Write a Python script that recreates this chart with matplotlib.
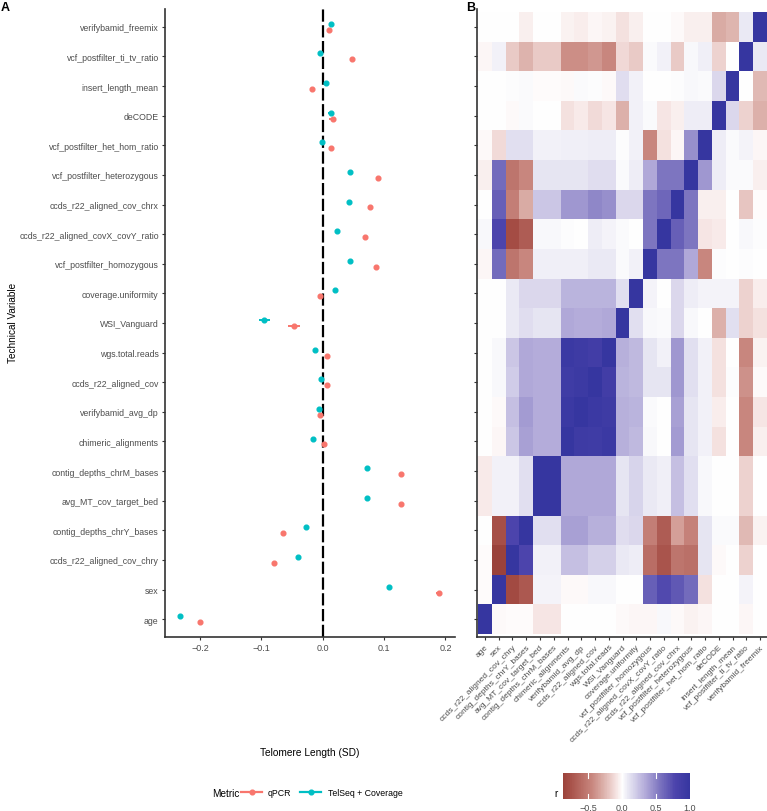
import numpy as np
import matplotlib
matplotlib.use('Agg')
import matplotlib.pyplot as plt
from matplotlib.colors import LinearSegmentedColormap, Normalize
from matplotlib.lines import Line2D

plt.rcParams['font.family'] = ['Liberation Sans', 'DejaVu Sans']

# ---------------- data ----------------
variables = ["age", "sex", "ccds_r22_aligned_cov_chry", "contig_depths_chrY_bases",
             "avg_MT_cov_target_bed", "contig_depths_chrM_bases", "chimeric_alignments",
             "verifybamid_avg_dp", "ccds_r22_aligned_cov", "wgs.total.reads", "WSI_Vanguard",
             "coverage.uniformity", "vcf_postfilter_homozygous", "ccds_r22_aligned_covX_covY_ratio",
             "ccds_r22_aligned_cov_chrx", "vcf_postfilter_heterozygous", "vcf_postfilter_het_hom_ratio",
             "deCODE", "insert_length_mean", "vcf_postfilter_ti_tv_ratio", "verifybamid_freemix"]

qpcr_est = [-0.200, 0.189, -0.080, -0.065, 0.1275, 0.1275, 0.002, -0.0044, 0.0065, 0.0065,
            -0.0467, -0.005, 0.0868, 0.069, 0.0765, 0.0895, 0.0135, 0.016, -0.017, 0.047, 0.011]
qpcr_se = [0.002, 0.004, 0.002, 0.002, 0.002, 0.002, 0.002, 0.002, 0.002, 0.002,
           0.0095, 0.002, 0.002, 0.002, 0.002, 0.002, 0.002, 0.005, 0.002, 0.002, 0.002]
telseq_est = [-0.2324, 0.108, -0.040, -0.027, 0.072, 0.072, -0.016, -0.0055, -0.003, -0.012,
              -0.0956, 0.0205, 0.044, 0.0228, 0.043, 0.044, -0.002, 0.013, 0.005, -0.004, 0.0135]
telseq_se = [0.002, 0.004, 0.002, 0.002, 0.002, 0.002, 0.002, 0.002, 0.002, 0.002,
             0.009, 0.002, 0.002, 0.002, 0.002, 0.002, 0.002, 0.005, 0.002, 0.002, 0.002]

metrics = ["qPCR", "TelSeq + Coverage"]
metric_colors = ["#F8766D", "#00BFC4"]
x_ticks_a = [-0.2, -0.1, 0.0, 0.1, 0.2]

# correlation matrix rows (row i = variables[i], columns in the same order)
r_age = [1, -0.02, -0.01, -0.01, -0.08, -0.08, 0, 0, 0, 0, -0.02, -0.03, -0.03, 0.03, -0.02, -0.04, -0.03, 0, 0, -0.03, 0]
r_sex = [-0.01, 1, -0.82, -0.72, 0.04, 0.04, -0.02, -0.02, 0.03, 0.03, 0, 0, 0.65, 0.75, 0.68, 0.6, -0.1, 0, 0, 0.04, 0]
r_chry = [-0.01, -0.88, 1, 0.78, 0.05, 0.05, 0.25, 0.25, 0.18, 0.18, 0.08, 0.07, -0.6, -0.75, -0.55, -0.58, 0.1, -0.02, 0, -0.15, 0]
r_chrY = [0, -0.78, 0.78, 1, 0.12, 0.12, 0.38, 0.38, 0.32, 0.32, 0.13, 0.15, -0.5, -0.7, -0.35, -0.48, 0.1, 0.02, 0.02, -0.25, -0.04]
r_avgMT = [-0.07, 0.05, 0.05, 0.12, 1, 1, 0.35, 0.35, 0.35, 0.35, 0.1, 0.17, 0.08, 0.06, 0.25, 0.12, 0.03, 0, 0, -0.15, 0]
r_chrM = [-0.07, 0.05, 0.05, 0.12, 1, 1, 0.35, 0.35, 0.35, 0.35, 0.1, 0.17, 0.08, 0.06, 0.25, 0.12, 0.03, 0, 0, -0.15, 0]
r_chim = [0, -0.03, 0.22, 0.38, 0.33, 0.33, 1, 0.92, 0.9, 0.95, 0.32, 0.28, 0.03, 0, 0.4, 0.1, 0.05, -0.1, 0, -0.45, -0.05]
r_avgdp = [0, -0.02, 0.25, 0.4, 0.33, 0.33, 0.95, 1, 0.95, 0.92, 0.32, 0.3, 0.02, 0, 0.38, 0.1, 0.05, -0.06, 0, -0.45, -0.08]
r_ccds = [0, 0.03, 0.2, 0.35, 0.33, 0.33, 0.9, 0.93, 1, 0.88, 0.3, 0.28, 0.1, 0.1, 0.42, 0.12, 0.05, -0.1, 0.01, -0.4, -0.02]
r_wgs = [0, 0.03, 0.22, 0.35, 0.33, 0.33, 0.95, 0.92, 0.88, 1, 0.32, 0.28, 0.1, 0.05, 0.42, 0.12, 0.05, -0.1, 0, -0.45, -0.04]
r_wsi = [0, 0, 0.08, 0.13, 0.1, 0.1, 0.35, 0.33, 0.33, 0.35, 1, 0.12, 0.03, 0.02, 0.15, 0.03, 0, -0.28, 0.12, -0.15, -0.1]
r_covu = [0, 0, 0.08, 0.15, 0.15, 0.15, 0.3, 0.3, 0.3, 0.3, 0.12, 1, 0.04, 0, 0.15, 0.07, 0.04, 0.04, 0.04, -0.15, -0.06]
r_hom = [-0.03, 0.6, -0.55, -0.45, 0.06, 0.06, 0.06, 0.06, 0.08, 0.08, 0.02, 0.05, 1, 0.55, 0.55, 0.35, -0.45, 0.01, 0, 0.01, 0]
r_xy = [0.03, 0.78, -0.8, -0.7, 0.03, 0.03, 0.01, 0, 0.07, 0.04, 0.02, 0, 0.55, 1, 0.65, 0.55, -0.08, -0.07, 0, 0.03, 0.01]
r_chrx = [0, 0.65, -0.5, -0.3, 0.22, 0.22, 0.42, 0.42, 0.48, 0.45, 0.15, 0.15, 0.55, 0.62, 1, 0.55, -0.05, -0.05, 0, -0.2, -0.01]
r_het = [-0.05, 0.6, -0.55, -0.45, 0.1, 0.1, 0.1, 0.1, 0.13, 0.13, 0.02, 0.07, 0.35, 0.55, 0.55, 1, 0.42, 0.07, 0.02, 0.02, -0.05]
r_hethom = [-0.02, -0.12, 0.12, 0.12, 0.05, 0.05, 0.06, 0.06, 0.07, 0.07, 0.01, 0.05, -0.45, -0.1, -0.03, 0.45, 1, 0.07, 0.02, 0.04, -0.03]
r_decode = [0, 0, -0.02, 0.02, 0, 0, -0.1, -0.07, -0.12, -0.08, -0.28, 0.05, 0.02, -0.08, -0.05, 0.07, 0.07, 1, 0.15, -0.15, -0.28]
r_insert = [0, 0, 0.01, 0.02, -0.01, -0.01, -0.02, 0.02, 0.01, -0.02, 0.13, 0.05, 0, 0, 0.01, 0.03, 0.02, 0.15, 1, 0, -0.25]
r_titv = [-0.03, 0.05, -0.18, -0.27, -0.18, -0.18, -0.42, -0.42, -0.38, -0.45, -0.13, -0.18, 0.02, 0.05, -0.18, 0.03, 0.06, -0.15, 0, 1, 0.08]
r_freemix = [0, 0, 0, -0.05, 0, 0, -0.04, -0.06, -0.03, -0.04, -0.1, -0.05, 0, 0, -0.02, -0.05, -0.05, -0.3, -0.26, 0.08, 1]

corr_rows = [r_age, r_sex, r_chry, r_chrY, r_avgMT, r_chrM, r_chim, r_avgdp, r_ccds, r_wgs, r_wsi,
             r_covu, r_hom, r_xy, r_chrx, r_het, r_hethom, r_decode, r_insert, r_titv, r_freemix]
cbar_ticks = [-0.5, 0.0, 0.5, 1.0]

# ---------------- figure ----------------
W, H = 767, 812
fig = plt.figure(figsize=(W / 100, H / 100), dpi=100)

def fx(px):
    return px / W

def fy(py):
    return 1 - py / H

axis_col = "#333333"
text_col = "#4d4d4d"
n = len(variables)
ypos = np.arange(1, n + 1)

# ---- panel A ----
axA = fig.add_axes([fx(165), fy(638), fx(455 - 165), (638 - 10) / H])
offsets = [-0.1, 0.1]
for est, se, col, off in zip([qpcr_est, telseq_est], [qpcr_se, telseq_se], metric_colors, offsets):
    axA.errorbar(est, ypos + off, xerr=se, fmt='o', color=col, ms=3.4, elinewidth=1.4,
                 capsize=0, zorder=3)
axA.axvline(0, color='black', lw=1.6, ls=(0, (5.5, 1.6)), zorder=2)
axA.set_xlim(-0.257, 0.2155)
axA.set_ylim(0.4, n + 0.6)
axA.set_yticks(ypos)
axA.set_yticklabels(variables, fontsize=6.3, color=text_col)
axA.set_xticks(x_ticks_a)
axA.set_xticklabels([f"{t:.1f}".replace("-", "\u2212") for t in x_ticks_a], fontsize=6.5, color=text_col)
for s in ['top', 'right']:
    axA.spines[s].set_visible(False)
for s in ['left', 'bottom']:
    axA.spines[s].set_color(axis_col)
    axA.spines[s].set_linewidth(1.2)
axA.tick_params(axis='both', length=2.5, width=0.8, color=axis_col, pad=2)

fig.text(fx(310), fy(753), "Telomere Length (SD)", ha='center', va='center', fontsize=7.3, color='black')
fig.text(fx(12.7), fy(323), "Technical Variable", ha='center', va='center', rotation=90,
         fontsize=7.2, color='black')

# legend
fig.text(fx(212), fy(794), "Metric", ha='left', va='center', fontsize=7.2)
handles = [Line2D([0], [0], color=c, lw=1.6, marker='o', ms=3.4) for c in metric_colors]
fig.legend(handles, metrics, loc='center left', bbox_to_anchor=(fx(241), fy(794)), ncol=2,
           frameon=False, fontsize=6.3, handlelength=2.4, handletextpad=0.7, columnspacing=1.0,
           borderpad=0, borderaxespad=0)

# ---- panel B ----
M = np.array(corr_rows, dtype=float)
nodes = [(-1.0, "#8c332d"), (-0.8, "#a44c44"), (-0.45, "#c8867e"), (-0.28, "#dcb0aa"),
         (-0.1, "#f4e0de"), (0.0, "#ffffff"), (0.1, "#e6e4f2"), (0.35, "#b0a8d8"),
         (0.55, "#7e76c0"), (0.78, "#4c44ac"), (1.0, "#3636a0")]
cmap = LinearSegmentedColormap.from_list("rb", [((v + 1) / 2, c) for v, c in nodes])
norm = Normalize(vmin=-1, vmax=1)

axB = fig.add_axes([fx(476.7), fy(638), 1 - fx(476.7), (638 - 10) / H])
edges = np.arange(0.5, n + 1)
mesh = axB.pcolormesh(edges, edges, M, cmap=cmap, norm=norm, edgecolors='none')
axB.set_xlim(0.4, n + 0.5)
axB.set_ylim(0.4, n + 0.6)
axB.set_yticks(ypos)
axB.set_yticklabels([])
axB.set_xticks(ypos)
axB.set_xticklabels(variables, rotation=45, ha='right', va='top', rotation_mode='anchor',
                    fontsize=6.0, color=text_col)
for s in ['top', 'right']:
    axB.spines[s].set_visible(False)
for s in ['left', 'bottom']:
    axB.spines[s].set_color(axis_col)
    axB.spines[s].set_linewidth(1.2)
axB.tick_params(axis='both', length=2.5, width=0.8, color=axis_col, pad=2)

# colorbar
cax = fig.add_axes([fx(562.7), fy(800), fx(690 - 562.7), 26 / H])
cb = fig.colorbar(mesh, cax=cax, orientation='horizontal',
                  boundaries=np.linspace(M.min(), M.max(), 300), ticks=cbar_ticks)
cb.outline.set_visible(False)
cax.tick_params(length=0, pad=3, labelsize=6.5, labelcolor=text_col)
cax.set_xticklabels([f"{t:.1f}".replace("-", "\u2212") for t in cbar_ticks])
for t in cbar_ticks[:-1]:
    cax.axvline(t, ymin=0, ymax=0.2, color='white', lw=0.8)
    cax.axvline(t, ymin=0.8, ymax=1.0, color='white', lw=0.8)
fig.text(fx(555.7), fy(794), "r", ha='center', va='center', fontsize=7.2)

# panel labels
fig.text(fx(1), fy(2), "A", ha='left', va='top', fontsize=9, fontweight='bold')
fig.text(fx(466), fy(2), "B", ha='left', va='top', fontsize=9, fontweight='bold')

fig.savefig("out.png", dpi=100)
